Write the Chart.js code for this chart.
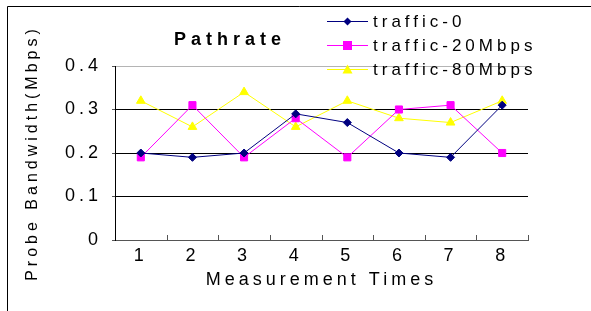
<!DOCTYPE html>
<html>
<head>
<meta charset="utf-8">
<script src="https://cdn.jsdelivr.net/npm/chart.js@4.4.1/dist/chart.umd.min.js"></script>
<style>
  html, body { margin: 0; padding: 0; background: #fff; }
  #wrap { position: relative; width: 591px; height: 311px; }
</style>
</head>
<body>
<div id="wrap"><canvas id="lineChart"></canvas></div>
<script>
// data
const times = ['1', '2', '3', '4', '5', '6', '7', '8'];
const traffic0 = [0.20, 0.19, 0.20, 0.29, 0.27, 0.20, 0.19, 0.31];
const traffic20 = [0.19, 0.31, 0.19, 0.28, 0.19, 0.30, 0.31, 0.20];
const traffic80 = [0.32, 0.26, 0.34, 0.26, 0.32, 0.28, 0.27, 0.32];
const yTicks = [0, 0.1, 0.2, 0.3, 0.4];

const FONT = '"Liberation Sans", Arial, sans-serif';

// spaced-out lettering like the original export
const spacing = {
    id: 'spacing',
    beforeInit(chart) {
        chart.ctx.letterSpacing = '4px';
    },
    beforeDraw(chart) {
        chart.ctx.letterSpacing = '4px';
    }
};

// frame, title, legend and inward x ticks
const decor = {
    id: 'decor',
    afterDraw(chart) {
        const ctx = chart.ctx;
        const x = chart.scales.x;
        const area = chart.chartArea;
        ctx.save();
        ctx.letterSpacing = '0px';
        ctx.strokeStyle = '#000';
        ctx.lineWidth = 1;
        ctx.beginPath();
        ctx.moveTo(7.5, 311);
        ctx.lineTo(7.5, 6.5);
        ctx.lineTo(591, 6.5);
        ctx.stroke();

        // ticks between categories
        ctx.strokeStyle = '#555';
        ctx.beginPath();
        for (let i = 0; i < times.length; i++) {
            const px = Math.round(x.getPixelForValue(i) + (x.getPixelForValue(1) - x.getPixelForValue(0)) / 2) + 0.5;
            ctx.moveTo(px, area.bottom);
            ctx.lineTo(px, area.bottom - 5);
        }
        ctx.stroke();

        // title
        ctx.letterSpacing = '5px';
        ctx.fillStyle = '#000';
        ctx.font = 'bold 18px ' + FONT;
        ctx.textAlign = 'center';
        ctx.textBaseline = 'middle';
        ctx.fillText('Pathrate', 230, 40);

        // legend
        ctx.font = '17px ' + FONT;
        ctx.textAlign = 'left';
        ctx.letterSpacing = '4px';
        chart.data.datasets.forEach((ds, i) => {
            const y = 21 + i * 24;
            ctx.strokeStyle = ds.borderColor;
            ctx.lineWidth = 1;
            ctx.beginPath();
            ctx.moveTo(327, y + 0.5);
            ctx.lineTo(368, y + 0.5);
            ctx.stroke();
            ctx.fillStyle = ds.pointBackgroundColor;
            const cx = 347.5, cy = y + 0.5;
            ctx.beginPath();
            if (ds.pointStyle === 'rectRot') {
                ctx.moveTo(cx, cy - 4); ctx.lineTo(cx + 4, cy); ctx.lineTo(cx, cy + 4); ctx.lineTo(cx - 4, cy);
            } else if (ds.pointStyle === 'rect') {
                ctx.rect(cx - 4.5, cy - 4.5, 9, 9);
            } else {
                ctx.moveTo(cx, cy - 5); ctx.lineTo(cx + 5, cy + 4); ctx.lineTo(cx - 5, cy + 4);
            }
            ctx.closePath();
            ctx.fill();
            ctx.fillStyle = '#000';
            ctx.fillText(ds.label, 373, y + 1);
        });
        ctx.restore();
    }
};

new Chart(document.getElementById('lineChart').getContext('2d'), {
    type: 'line',
    data: {
        labels: times,
        datasets: [
            {
                label: 'traffic-0',
                data: traffic0,
                borderColor: '#000080',
                backgroundColor: '#000080',
                pointBackgroundColor: '#000080',
                pointBorderColor: '#000080',
                pointStyle: 'rectRot',
                pointRadius: 4,
                borderWidth: 1,
                tension: 0
            },
            {
                label: 'traffic-20Mbps',
                data: traffic20,
                borderColor: '#ff00ff',
                backgroundColor: '#ff00ff',
                pointBackgroundColor: '#ff00ff',
                pointBorderColor: '#ff00ff',
                pointStyle: 'rect',
                pointRadius: 5,
                borderWidth: 1,
                tension: 0
            },
            {
                label: 'traffic-80Mbps',
                data: traffic80,
                borderColor: '#ffff00',
                backgroundColor: '#ffff00',
                pointBackgroundColor: '#ffff00',
                pointBorderColor: '#ffff00',
                pointStyle: 'triangle',
                pointRadius: 5,
                borderWidth: 1,
                tension: 0
            }
        ]
    },
    options: {
        responsive: true,
        maintainAspectRatio: false,
        animation: false,
        layout: {
            padding: { top: 66, right: 63, bottom: 0, left: 0 }
        },
        plugins: {
            legend: { display: false },
            title: { display: false },
            tooltip: { enabled: false }
        },
        scales: {
            x: {
                offset: true,
                afterFit(scale) { scale.height = 71; },
                grid: { display: false },
                border: { display: true, color: '#555', width: 1 },
                ticks: {
                    color: '#000',
                    padding: -3,
                    maxRotation: 0,
                    font: { family: FONT, size: 18 }
                },
                title: {
                    display: true,
                    text: 'Measurement Times',
                    color: '#000',
                    font: { family: FONT, size: 18 },
                    padding: { top: 0, bottom: 20 }
                }
            },
            y: {
                min: 0,
                max: 0.4,
                afterFit(scale) { scale.width = 115; },
                afterBuildTicks(scale) {
                    scale.ticks = yTicks.map(v => ({ value: v }));
                },
                grid: {
                    color: ctx => ctx.tick && ctx.tick.value === 0.4 ? '#b4b4b4' : (ctx.tick && ctx.tick.value === 0 ? 'rgba(0,0,0,0)' : '#000'),
                    tickLength: 3,
                    tickColor: '#555'
                },
                border: { display: true, color: '#000', width: 1 },
                ticks: {
                    color: '#000',
                    padding: 10,
                    font: { family: FONT, size: 18 },
                    callback: v => v === 0 ? '0' : v.toFixed(1)
                },
                title: {
                    display: true,
                    text: 'Probe Bandwidth(Mbps)',
                    color: '#000',
                    font: { family: FONT, size: 16 },
                    padding: { top: 23, bottom: 0 }
                }
            }
        }
    },
    plugins: [spacing, decor]
});
</script>
</body>
</html>
